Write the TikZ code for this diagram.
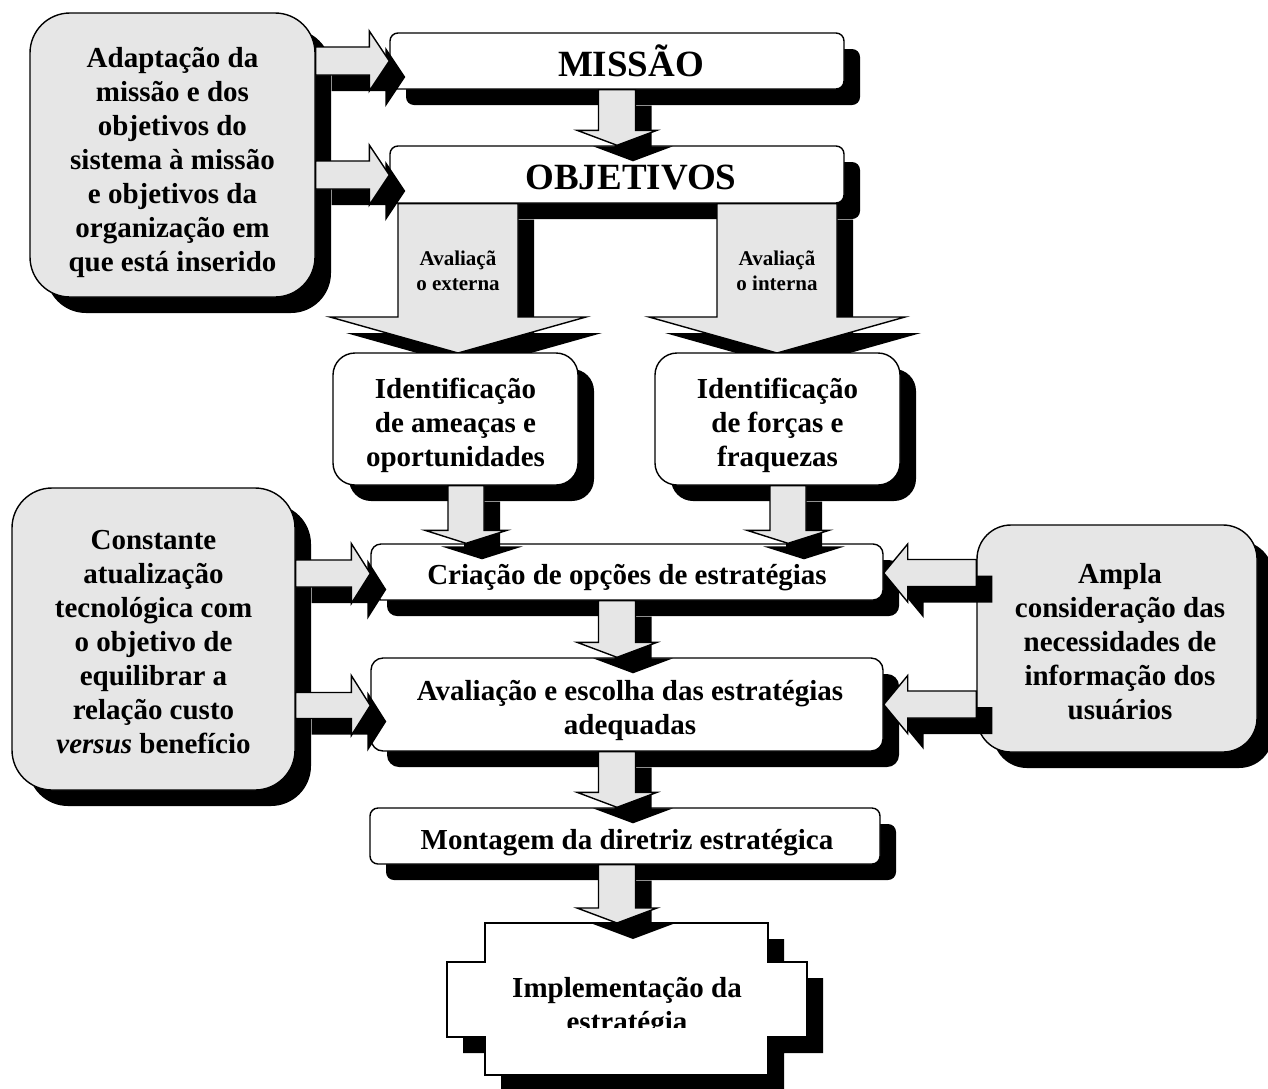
\documentclass[tikz,border=0pt]{standalone}
\usepackage{fontspec}
\setmainfont{Liberation Serif}
\usetikzlibrary{calc,shadows}
\definecolor{lgray}{RGB}{230,230,230}
\tikzset{
  base/.style={draw=black, line width=0.7pt, inner sep=0pt,
    general shadow={fill=black, shadow xshift=8pt, shadow yshift=-8pt}},
  graybox/.style={base, fill=lgray, rounded corners=20pt},
  whitebox/.style={base, fill=white},
  txt/.style={align=center, inner sep=0pt, font=\fontsize{14.5}{17}\selectfont\bfseries},
  bigtxt/.style={align=center, inner sep=0pt, font=\fontsize{18.5}{21}\selectfont\bfseries},
  smalltxt/.style={align=center, inner sep=0pt, font=\fontsize{10.5}{12.5}\selectfont\bfseries},
  abody/.style={fill=lgray, draw=black, line width=0.7pt, line join=miter},
  ashadow/.style={fill=black},
}
% vertical block arrow: #1 x (px), #2 start anchor, #3 tip anchor, #4 shaft half, #5 head half, #6 head length
\newcommand\darr[6]{%
  \fill[ashadow] let \p1=(#2), \p2=(#3) in
    ({(#1-(#4)+16)*0.5pt},{\y1-8pt}) -- ({(#1+(#4)+16)*0.5pt},{\y1-8pt}) --
    ({(#1+(#4)+16)*0.5pt},{\y2+(#6)*0.5pt-8pt}) -- ({(#1+(#5)+16)*0.5pt},{\y2+(#6)*0.5pt-8pt}) --
    ({(#1+16)*0.5pt},{\y2-8pt}) -- ({(#1-(#5)+16)*0.5pt},{\y2+(#6)*0.5pt-8pt}) --
    ({(#1-(#4)+16)*0.5pt},{\y2+(#6)*0.5pt-8pt}) -- cycle;
  \filldraw[abody] let \p1=(#2), \p2=(#3) in
    ({(#1-(#4))*0.5pt},{\y1}) -- ({(#1+(#4))*0.5pt},{\y1}) --
    ({(#1+(#4))*0.5pt},{\y2+(#6)*0.5pt}) -- ({(#1+(#5))*0.5pt},{\y2+(#6)*0.5pt}) --
    ({(#1)*0.5pt},{\y2}) -- ({(#1-(#5))*0.5pt},{\y2+(#6)*0.5pt}) --
    ({(#1-(#4))*0.5pt},{\y2+(#6)*0.5pt}) -- cycle;
}
% horizontal block arrow: #1 y (px), #2 start anchor, #3 tip anchor, #4 shaft half, #5 head half, #6 signed head length
\newcommand\harr[6]{%
  \fill[ashadow] let \p1=(#2), \p2=(#3) in
    ({\x1+8pt},{-(#1-(#4)+16)*0.5pt}) -- ({\x2-(#6)*0.5pt+8pt},{-(#1-(#4)+16)*0.5pt}) --
    ({\x2-(#6)*0.5pt+8pt},{-(#1-(#5)+16)*0.5pt}) -- ({\x2+8pt},{-(#1+16)*0.5pt}) --
    ({\x2-(#6)*0.5pt+8pt},{-(#1+(#5)+16)*0.5pt}) -- ({\x2-(#6)*0.5pt+8pt},{-(#1+(#4)+16)*0.5pt}) --
    ({\x1+8pt},{-(#1+(#4)+16)*0.5pt}) -- cycle;
  \filldraw[abody] let \p1=(#2), \p2=(#3) in
    ({\x1},{-(#1-(#4))*0.5pt}) -- ({\x2-(#6)*0.5pt},{-(#1-(#4))*0.5pt}) --
    ({\x2-(#6)*0.5pt},{-(#1-(#5))*0.5pt}) -- ({\x2},{-(#1)*0.5pt}) --
    ({\x2-(#6)*0.5pt},{-(#1+(#5))*0.5pt}) -- ({\x2-(#6)*0.5pt},{-(#1+(#4))*0.5pt}) --
    ({\x1},{-(#1+(#4))*0.5pt}) -- cycle;
}
\begin{document}
\begin{tikzpicture}[x=0.5pt,y=-0.5pt]
\useasboundingbox (0,0) rectangle (1268,1088);

% top boxes
\node[graybox, minimum width=142.5pt, minimum height=142pt] (boxA) at (172.5,155) {};
\node[txt] (boxAt) at (172.5,162)
  {Adaptação da\\missão e dos\\objetivos do\\sistema à missão\\e objetivos da\\organização em\\que está inserido};
\node[whitebox, rounded corners=4pt, minimum width=227pt, minimum height=28pt] (missao) at (617,61) {};
\node[bigtxt] (missaot) at (631,61) {MISSÃO};
\node[whitebox, rounded corners=4pt, minimum width=227pt, minimum height=28.5pt] (objetivos) at (617,174.5) {};
\node[bigtxt] (objetivost) at (631,178) {OBJETIVOS};

\harr{61}{boxA.east}{missao.west}{14}{30}{20}
\harr{175}{boxA.east}{objetivos.west}{14}{30}{20}
\darr{617}{missao.south}{objetivos.north}{18.5}{40}{15}

% big evaluation arrows
\coordinate (idtop) at (617,353);
\darr{458}{objetivos.south}{idtop -| 458,0}{60}{128}{36}
\darr{777}{objetivos.south}{idtop -| 777,0}{60}{128}{36}
\node[smalltxt] (ext) at (458,271) {Avaliaçã\\o externa};
\node[smalltxt] (int) at (777,271) {Avaliaçã\\o interna};

% identification boxes
\node[whitebox, rounded corners=11pt, minimum width=122.5pt, minimum height=66pt] (idA) at (455.5,419) {};
\node[txt] (idAt) at (455.5,425) {Identificação\\de ameaças e\\oportunidades};
\node[whitebox, rounded corners=11pt, minimum width=122.5pt, minimum height=66pt] (idB) at (777.5,419) {};
\node[txt] (idBt) at (777.5,425) {Identificação\\de forças e\\fraquezas};

% middle boxes
\node[whitebox, rounded corners=5pt, minimum width=256pt, minimum height=28pt] (criacao) at (627,572) {};
\node[txt] (criacaot) at (627,578) {Criação de opções de estratégias};
\node[whitebox, rounded corners=6pt, minimum width=256pt, minimum height=46.5pt] (avaliacao) at (627,704.5) {};
\node[txt] (avaliacaot) at (630,710.5) {Avaliação e escolha das estratégias\\adequadas};
\node[graybox, minimum width=141.5pt, minimum height=151pt] (boxC) at (153.5,639) {};
\node[txt] (boxCt) at (153.5,642)
  {Constante\\atualização\\tecnológica com\\o objetivo de\\equilibrar a\\relação custo\\\textit{versus} benefício};
\node[graybox, rounded corners=17pt, minimum width=140pt, minimum height=113.5pt] (ampla) at (1117,638.5) {};
\node[txt] (amplat) at (1120,641.5)
  {Ampla\\consideração das\\necessidades de\\informação dos\\usuários};
\node[whitebox, rounded corners=4pt, minimum width=255pt, minimum height=28pt] (montagem) at (625,836) {};
\node[txt] (montagemt) at (627,842.5) {Montagem da diretriz estratégica};

% implementation shape
\fill[black, shift={(16,16)}] (485,923) -- (768,923) -- (768,962) -- (807,962) -- (807,1037) -- (768,1037)
  -- (768,1075) -- (485,1075) -- (485,1037) -- (447,1037) -- (447,962) -- (485,962) -- cycle;
\filldraw[fill=white, draw=black, line width=0.7pt] (485,923) -- (768,923) -- (768,962) -- (807,962) -- (807,1037) -- (768,1037)
  -- (768,1075) -- (485,1075) -- (485,1037) -- (447,1037) -- (447,962) -- (485,962) -- cycle;
\coordinate (implN) at (617,923);
\begin{scope}
  \clip (447,923) rectangle (807,1027);
  \node[txt] (impl) at (627,1008) {Implementação da\\estratégia};
\end{scope}

% arrows
\darr{466}{idA.south}{criacao.north}{18}{41}{13}
\darr{788}{idB.south}{criacao.north}{18}{41}{13}
\darr{617}{criacao.south}{avaliacao.north}{18.5}{40}{15}
\darr{617}{avaliacao.south}{montagem.north}{18.5}{40}{15}
\darr{617}{montagem.south}{implN}{18.5}{40}{15}
\harr{573.5}{boxC.east}{criacao.west}{13.5}{30}{19}
\harr{705.5}{boxC.east}{avaliacao.west}{13}{30}{19}
\harr{573}{ampla.west}{criacao.east}{13.5}{29}{-24}
\harr{704.5}{ampla.west}{avaliacao.east}{13.5}{29}{-24}
\end{tikzpicture}
\end{document}
